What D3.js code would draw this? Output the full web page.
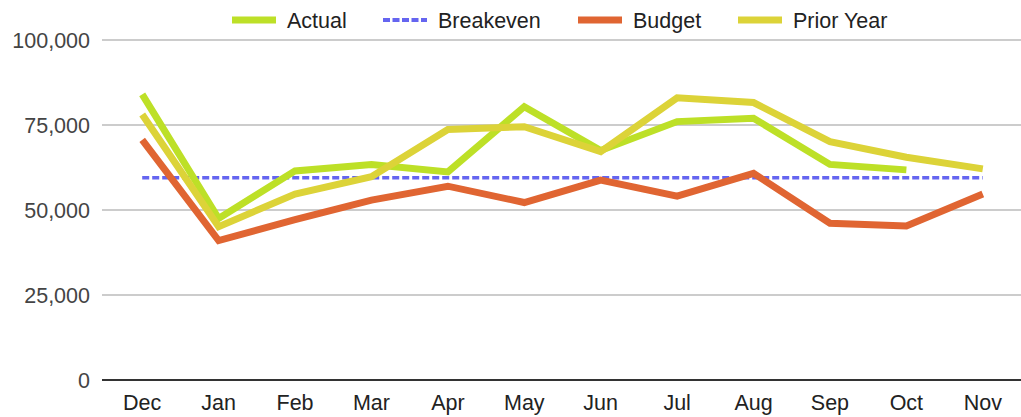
<!DOCTYPE html>
<html>
<head>
<meta charset="utf-8">
<script src="https://cdn.jsdelivr.net/npm/d3@7"></script>
<style>
  body { margin: 0; background: #fff; }
  text { font-family: "Liberation Sans", Arial, sans-serif; }
</style>
</head>
<body>
<script>
const months = ["Dec", "Jan", "Feb", "Mar", "Apr", "May", "Jun", "Jul", "Aug", "Sep", "Oct", "Nov"];
const actual = [84000, 47500, 61500, 63400, 61200, 80400, 67500, 76000, 77000, 63400, 61800, null];
const breakeven = [59500, 59500, 59500, 59500, 59500, 59500, 59500, 59500, 59500, 59500, 59500, 59500];
const budget = [70600, 41000, 47200, 52900, 57000, 52200, 58800, 54100, 60800, 46100, 45300, 54700];
const priorYear = [78100, 45100, 54700, 59800, 73700, 74500, 67200, 83000, 81600, 70100, 65500, 62100];
const yTicks = [0, 25000, 50000, 75000, 100000];

const w = 1021, h = 417;
const svg = d3.select("body").append("svg")
  .attr("width", w)
  .attr("height", h);

const x = d3.scaleBand().domain(months).range([104, 1021]);
const y = d3.scaleLinear().domain([0, 100000]).range([380, 40]);

// grid lines
svg.selectAll("line.grid")
  .data(yTicks.filter(d => d > 0))
  .enter()
  .append("line")
  .attr("x1", 102).attr("x2", 1021)
  .attr("y1", d => y(d)).attr("y2", d => y(d))
  .attr("stroke", "#cccccc")
  .attr("stroke-width", 2);

// y labels
svg.selectAll("text.ylab")
  .data(yTicks)
  .enter()
  .append("text")
  .attr("x", 90)
  .attr("y", d => y(d))
  .attr("dy", "0.36em")
  .attr("text-anchor", "end")
  .attr("font-size", 21.5)
  .attr("fill", "#444")
  .text(d => d3.format(",")(d));

// x labels
svg.selectAll("text.xlab")
  .data(months)
  .enter()
  .append("text")
  .attr("x", d => x(d) + x.bandwidth() / 2)
  .attr("y", 410)
  .attr("text-anchor", "middle")
  .attr("font-size", 21.5)
  .attr("fill", "#222")
  .text(d => d);

const series = [
  { name: "Actual", values: actual, color: "#bde027", width: 7, dash: null },
  { name: "Breakeven", values: breakeven, color: "#6565f0", width: 3.5, dash: "7,3" },
  { name: "Budget", values: budget, color: "#e06532", width: 7, dash: null },
  { name: "Prior Year", values: priorYear, color: "#dcd338", width: 7, dash: null }
];
const drawOrder = [series[1], series[2], series[0], series[3]];

const line = d3.line()
  .defined(d => d != null)
  .x((d, i) => x(months[i]) + x.bandwidth() / 2)
  .y(d => y(d));

svg.selectAll("path.series")
  .data(drawOrder)
  .enter()
  .append("path")
  .attr("d", s => line(s.values))
  .attr("fill", "none")
  .attr("stroke", s => s.color)
  .attr("stroke-width", s => s.width)
  .attr("stroke-dasharray", s => s.dash)
  .attr("stroke-linejoin", "miter");

// baseline
svg.append("line")
  .attr("x1", 102).attr("x2", 1021)
  .attr("y1", y(0)).attr("y2", y(0))
  .attr("stroke", "#333")
  .attr("stroke-width", 2);

// legend
const legendX = [232, 383, 578, 738];
const leg = svg.selectAll("g.leg")
  .data(series)
  .enter()
  .append("g")
  .attr("transform", (d, i) => `translate(${legendX[i]},20)`);
leg.append("line")
  .attr("x1", 0).attr("x2", 44)
  .attr("stroke", d => d.color)
  .attr("stroke-width", d => d.dash ? 4 : 7)
  .attr("stroke-dasharray", d => d.dash ? "7,2.5" : null);
leg.append("text")
  .attr("x", 55)
  .attr("y", 8)
  .attr("font-size", 21.5)
  .attr("fill", "#222")
  .text(d => d.name);
</script>
</body>
</html>
